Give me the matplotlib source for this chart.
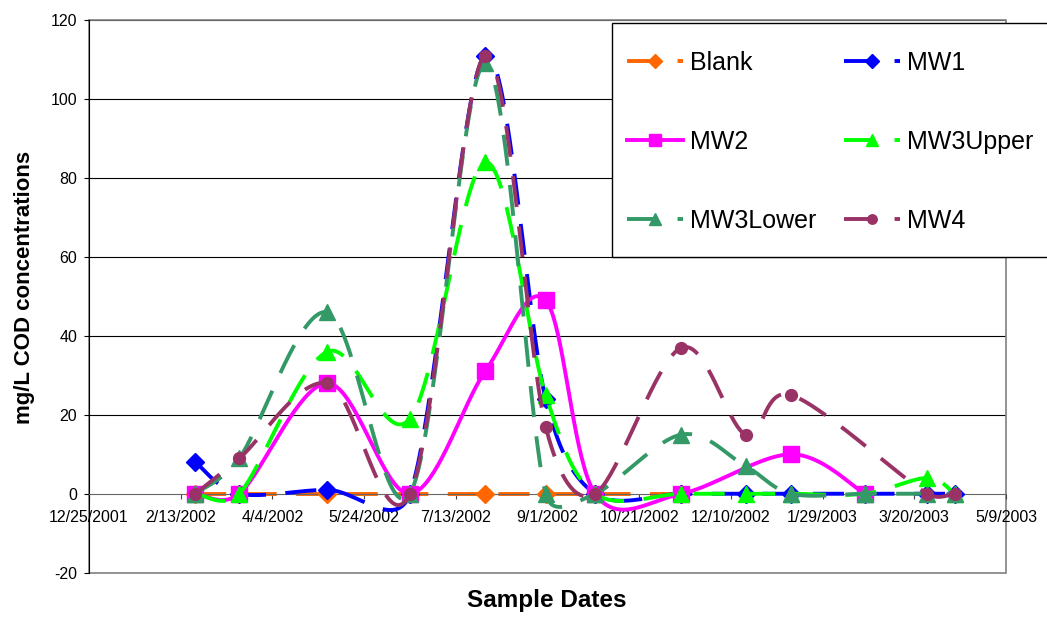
import datetime as dt
import numpy as np
import matplotlib
matplotlib.use("Agg")
import matplotlib.pyplot as plt
import matplotlib.dates as mdates
from matplotlib.lines import Line2D
from matplotlib.patches import Rectangle
from matplotlib.ticker import FuncFormatter

plt.rcParams['font.family'] = ['Liberation Sans', 'DejaVu Sans']
plt.rcParams['axes.unicode_minus'] = False

# sample dates and COD readings (mg/L); nan = no sample for that well
sample_dates = ['2002-02-21', '2002-03-17', '2002-05-04', '2002-06-18', '2002-07-29',
                '2002-08-31', '2002-09-27', '2002-11-13', '2002-12-18', '2003-01-12',
                '2003-02-21', '2003-03-27', '2003-04-11']
nan = np.nan
blank = [0, 0, 0, 0, 0, 0, 0, 0, nan, nan, nan, nan, nan]
mw1 = [8, 0, 1, 0, 111, 24, 0, 0, 0, 0, 0, 0, 0]
mw2 = [0, 0, 28, 0, 31, 49, 0, 0, nan, 10, 0, nan, nan]
mw3_upper = [0, 0, 36, 19, 84, 25, 0, 0, 0, 0, 0, 4, 0]
mw3_lower = [0, 9, 46, 0, 109, 0, 0, 15, 7, 0, 0, 0, 0]
mw4 = [0, 9, 28, 0, 111, 17, 0, 37, 15, 25, nan, 0, 0]

series_names = ['Blank', 'MW1', 'MW2', 'MW3Upper', 'MW3Lower', 'MW4']
series_values = [blank, mw1, mw2, mw3_upper, mw3_lower, mw4]
colors = ['#FF6600', '#0000FF', '#FF00FF', '#00FF00', '#339966', '#993366']
markers = ['D', 'D', 's', '^', '^', 'o']
marker_sizes = [9, 9.5, 11, 11, 11, 8.5]
solid = [False, False, True, False, False, False]

axis_start = dt.date(2001, 12, 25)
axis_end = dt.date(2003, 5, 9)

W, H = 1047, 622
fig = plt.figure(figsize=(W / 100, H / 100), dpi=100)
ax = fig.add_axes([89 / W, (H - 572.7) / H, 917 / W, 552.7 / H])

x0 = mdates.date2num(axis_start)
ax.set_xlim(x0, mdates.date2num(axis_end))
ax.set_ylim(-20, 120)
ax.set_xticks(x0 + np.arange(0, 501, 50))
ax.set_yticks(np.arange(-20, 121, 20))


def fmt_date(v, pos):
    d = mdates.num2date(v)
    return f"{d.month}/{d.day}/{d.year}"


ax.xaxis.set_major_formatter(FuncFormatter(fmt_date))

for v in range(20, 121, 20):
    ax.axhline(v, color='black', lw=0.8, zorder=0.5)

for s in ['top', 'right']:
    ax.spines[s].set_visible(False)
ax.spines['bottom'].set_position(('data', 0))
ax.spines['bottom'].set_color('#666666')
ax.spines['left'].set_color('black')
ax.add_patch(Rectangle((0, 0), 1, 1, transform=ax.transAxes, fill=False,
                       edgecolor='#808080', lw=1.2, clip_on=False, zorder=0.6))

ax.tick_params(axis='x', direction='out', length=3.5, color='#444444',
               labelsize=11.5, pad=8.5)
ax.tick_params(axis='y', direction='out', length=3.5, color='black',
               labelsize=11.5, pad=5)


def excel_smooth(xs, ys, n=40):
    # bezier smoothing in the spirit of Excel's "smoothed line", done in pixel space
    pts = ax.transData.transform(np.column_stack([xs, ys]))
    out = [pts[0]]
    m = len(pts)
    t = np.linspace(0, 1, n)[1:, None]
    for i in range(m - 1):
        p0 = pts[i - 1] if i > 0 else pts[i]
        p1, p2 = pts[i], pts[i + 1]
        p3 = pts[i + 2] if i + 2 < m else pts[i + 1]
        d12 = np.hypot(*(p2 - p1))
        d02 = np.hypot(*(p2 - p0))
        d13 = np.hypot(*(p3 - p1))
        f1 = 1 / 6 if d02 / 6 < d12 / 2 else d12 / (2 * d02)
        f2 = 1 / 6 if d13 / 6 < d12 / 2 else d12 / (2 * d13)
        c1 = p1 + (p2 - p0) * f1
        c2 = p2 - (p3 - p1) * f2
        seg = (1 - t) ** 3 * p1 + 3 * (1 - t) ** 2 * t * c1 + 3 * (1 - t) * t ** 2 * c2 + t ** 3 * p2
        out.extend(seg)
    return ax.transData.inverted().transform(np.array(out))


xdates = mdates.date2num([dt.date.fromisoformat(d) for d in sample_dates])
lw = 2.8
dash = (8, 5)
handles = []
for i, (name, vals) in enumerate(zip(series_names, series_values)):
    vals = np.array(vals, dtype=float)
    ok = ~np.isnan(vals)
    xs, ys = xdates[ok], vals[ok]
    c = colors[i]
    curve = excel_smooth(xs, ys)
    line_kw = dict(color=c, lw=lw)
    if not solid[i]:
        line_kw['dashes'] = dash
    ax.plot(curve[:, 0], curve[:, 1], zorder=2 + 2 * i, **line_kw)
    ax.plot(xs, ys, ls='none', marker=markers[i], ms=marker_sizes[i], color=c,
            mec=c, mew=1, zorder=3 + 2 * i)
    handles.append(Line2D([], [], marker=markers[i], ms=marker_sizes[i] * 0.8,
                          mec=c, **line_kw))

# legend box runs off the right edge of the picture, so the frame is drawn by hand
fig.add_artist(Rectangle((612 / W, 1 - 257 / H), (1070 - 612) / W, (257 - 23) / H,
                         transform=fig.transFigure, facecolor='white',
                         edgecolor='black', lw=1.0, zorder=4))
# legend fills row by row in the original, matplotlib fills columns
order = [0, 2, 4, 1, 3, 5]
leg = fig.legend([handles[k] for k in order], [series_names[k] for k in order],
                 loc='upper left', bbox_to_anchor=(627 / W, 1 - 51 / H),
                 bbox_transform=fig.transFigure, ncol=2, fontsize=18, frameon=False,
                 borderpad=0, borderaxespad=0, handlelength=2.24,
                 handletextpad=0.28, columnspacing=1.1, labelspacing=2.2, numpoints=1)
leg.set_zorder(5)

fig.text(25 / W, 1 - 287 / H, 'mg/L COD concentrations', rotation=90, ha='center',
         va='center', fontsize=16, fontweight='bold')
fig.text(547 / W, 1 - 607 / H, 'Sample Dates', ha='center', va='baseline',
         fontsize=17.5, fontweight='bold')

fig.savefig('out.png', dpi=100)
